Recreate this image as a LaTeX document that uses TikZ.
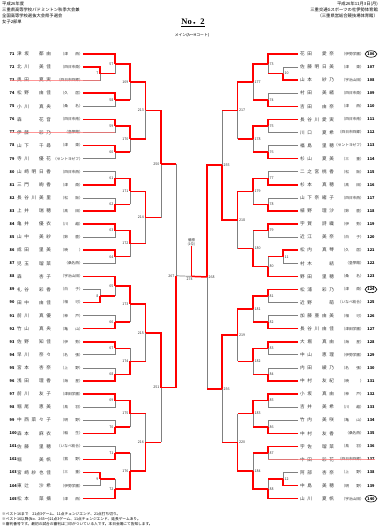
\documentclass[tikz,border=0pt]{standalone}
\usepackage{fontspec}
\usetikzlibrary{shapes.geometric}
\setmainfont{Noto Sans CJK JP}
\newfontfamily\jpname[LetterSpace=58]{Noto Sans CJK JP}
\newfontfamily\jp{Noto Sans CJK JP}
\newfontfamily\serifb{Liberation Serif}
\newcommand\setY[2]{\expandafter\xdef\csname Y@#1\endcsname{#2}}
\newcommand\getY[1]{\csname Y@#1\endcsname}
\newcommand\Lp[4]{%
  \pgfmathsetmacro\yy{54+13.08*#1}%
  \setY{P#2}{\yy}%
  \expandafter\gdef\csname isP@P#2\endcsname{}%
  \coordinate (P#2) at (83,\yy);
  \node[numl] (n#2) at (9.5,\yy) {#2};
  \node[nmb] (a#2) at (17,\yy) {#3};
  \node[scb,anchor=east] (s#2) at (83,\yy) {（#4）};
}
\newcommand\Rp[5]{%
  \pgfmathsetmacro\yy{54+13.08*#1}%
  \setY{P#2}{\yy}%
  \expandafter\gdef\csname isP@P#2\endcsname{}%
  \coordinate (P#2) at (298,\yy);
  \node[nmb] (a#2) at (300,\yy) {#3};
  \node[scb,anchor=east] (s#2) at (364,\yy) {（#4）};
  \ifnum#5=1 \node[numr,circ] (n#2) at (371,\yy) {#2};\else\node[numr] (n#2) at (371,\yy) {#2};\fi
}
\newcommand\mt[7]{%
  \pgfmathsetmacro\ya{\getY{#3}}%
  \pgfmathsetmacro\yb{\getY{#4}}%
  \pgfmathsetmacro\ym{(\ya+\yb)/2}%
  \setY{#1}{\ym}%
  \coordinate (#1) at (#2,\ym);
  \ifnum#5=1
    \ifcsname isP@#4\endcsname \draw[lose] (#4) -- (#2,\yb) -- (#1);%
    \else \draw[lose] (#2,\yb) -- (#1); \draw[win] (#4) -- (#2,\yb);\fi
    \draw[win] (#3) -- (#2,\ya) -- (#1);
  \else
    \ifcsname isP@#3\endcsname \draw[lose] (#3) -- (#2,\ya) -- (#1);%
    \else \draw[lose] (#2,\ya) -- (#1); \draw[win] (#3) -- (#2,\ya);\fi
    \draw[win] (#4) -- (#2,\yb) -- (#1);
  \fi
  \if#7l\node[lbl,anchor=east] (l#1) at (#2-1.2,\ym) {#6};\else\node[lbl,anchor=west] (l#1) at (#2+1.2,\ym) {#6};\fi
}
\begin{document}
\begin{tikzpicture}[x=1pt,y=-1pt,
  win/.style={draw=red, line width=1.5pt},
  lose/.style={draw=black!50, line width=0.7pt},
  strike/.style={draw=red!55, line width=0.8pt, opacity=0.75},
  lbl/.style={font=\jp\fontsize{3.6}{4}\selectfont, inner sep=0.3pt, text=black!80},
  numl/.style={font=\jp\bfseries\fontsize{3.9}{4}\selectfont, anchor=west, inner sep=0pt},
  numr/.style={font=\jp\bfseries\fontsize{3.9}{4}\selectfont, inner sep=0pt},
  circ/.style={draw=black, ellipse, line width=0.6pt, inner sep=0.6pt, minimum width=11pt, minimum height=6.5pt},
  nmb/.style={font=\jpname\fontsize{4.6}{5}\selectfont, anchor=west, inner sep=0pt, text=black!80},
  scb/.style={font=\jp\fontsize{3.7}{4}\selectfont, inner sep=0pt, text=black!80},
  hdr/.style={font=\jp\fontsize{4.3}{5}\selectfont, inner sep=0pt},
  ftr/.style={font=\jp\fontsize{3.7}{4}\selectfont, inner sep=0pt, anchor=west}]
\useasboundingbox (0,0) rectangle (380,528);
\fill[white] (0,0) rectangle (380,528);
% header
\node[hdr,anchor=west] (h1) at (2,4) {平成26年度};
\node[hdr,anchor=west] (h2) at (2,10) {三重県高等学校バドミントン秋季大会兼};
\node[hdr,anchor=west] (h3) at (2,16) {全国高等学校選抜大会県予選会};
\node[hdr,anchor=west] (h4) at (2,22) {女子2部単};
\node[hdr,anchor=east] (h5) at (378,4) {平成26年11月3日(月)};
\node[hdr,anchor=east] (h6) at (378,10) {三重交通Gスポーツの杜伊勢体育館};
\node[hdr,anchor=east] (h7) at (378,16) {（三重県営総合競技場体育館）};
\node[font=\serifb\bfseries\fontsize{8.5}{9}\selectfont, inner sep=0pt] (no) at (193,23) {\underline{No{\jp ．}2}};
\node[font=\jp\fontsize{3.8}{4}\selectfont, inner sep=0pt] (court) at (192,35) {メイン(A〜Hコート)};
% players left
\Lp{0}{71}{津坂　都由}{津　　西}
\Lp{1}{72}{北川　美佳}{四日市商}
\Lp{2}{73}{奥田　夏実}{四日市四郷}
\Lp{3}{74}{松野　由佳}{久　　居}
\Lp{4}{75}{小川　真央}{桑　　名}
\Lp{5}{76}{森　　花音}{四日市南}
\Lp{6}{77}{伊藤　彩乃}{皇學館}
\Lp{7}{78}{山下　千尋}{津　　東}
\Lp{8}{79}{寺川　優花}{セントヨゼフ}
\Lp{9}{80}{山崎明日香}{四日市西}
\Lp{10}{81}{三門　絢香}{津　　商}
\Lp{11}{82}{長谷川美里}{松　　阪}
\Lp{12}{83}{上井　瑞穂}{高　　田}
\Lp{13}{84}{亀井　優衣}{川　　越}
\Lp{14}{85}{山中　美紗}{鈴　　鹿}
\Lp{15}{86}{成田　里美}{暁　　　}
\Lp{16}{87}{児玉　瑠菜}{桑名西}
\Lp{17}{88}{森　　杏子}{宇治山田}
\Lp{18}{89}{礼谷　彩香}{白　　子}
\Lp{19}{90}{田中　由佳}{相　　可}
\Lp{20}{91}{前川　真優}{神　　戸}
\Lp{21}{92}{竹山　真央}{亀　　山}
\Lp{22}{93}{佐野　知佳}{伊　　勢}
\Lp{23}{94}{早川　奈々}{名　　張}
\Lp{24}{95}{宮本　杏奈}{上　　野}
\Lp{25}{96}{浅田　理香}{海　　星}
\Lp{26}{97}{前川　友子}{津田学園}
\Lp{27}{98}{堀尾　恵美}{鳥　　羽}
\Lp{28}{99}{中西菜々子}{明　　野}
\Lp{29}{100}{森本　麻衣}{稲　　生}
\Lp{30}{101}{佐藤　里穂}{いなべ総合}
\Lp{31}{102}{堀　　美帆}{菰　　野}
\Lp{32}{103}{宮崎紗也佳}{三　　重}
\Lp{33}{104}{東辻　沙希}{伊勢学園}
\Lp{34}{105}{松本　菜摘}{津　　西}
% players right
\Rp{0}{106}{花田　愛奈}{伊勢学園}{1}
\Rp{1}{107}{佐藤明日美}{津　　東}{0}
\Rp{2}{108}{山本　紗乃}{宇治山田}{0}
\Rp{3}{109}{村田　美緒}{四日市商}{0}
\Rp{4}{110}{吉田　由奈}{津　　西}{0}
\Rp{5}{111}{長谷川愛実}{四日市南}{0}
\Rp{6}{112}{川口　夏希}{四日市四郷}{0}
\Rp{7}{113}{福島　里穂}{セントヨゼフ}{0}
\Rp{8}{114}{杉山　夏美}{三　　重}{0}
\Rp{9}{115}{二之宮桃香}{松　　阪}{0}
\Rp{10}{116}{杉本　真穂}{高　　田}{0}
\Rp{11}{117}{山下奈緒子}{四日市西}{0}
\Rp{12}{118}{植野　理沙}{鈴　　鹿}{0}
\Rp{13}{119}{宇賀　詩織}{伊　　勢}{0}
\Rp{14}{120}{近江　美奈}{白　　子}{0}
\Rp{15}{121}{松内　真琴}{久　　居}{0}
\Rp{16}{122}{村木　　結}{皇學館}{0}
\Rp{17}{123}{野田　里穂}{桑　　名}{0}
\Rp{18}{124}{松浦　彩乃}{津　　商}{1}
\Rp{19}{125}{近野　　萌}{いなべ総合}{0}
\Rp{20}{126}{加藤亜由美}{相　　可}{0}
\Rp{21}{127}{長谷川由佳}{津田学園}{0}
\Rp{22}{128}{大堀　真由}{海　　星}{0}
\Rp{23}{129}{中山　恵理}{伊勢学園}{0}
\Rp{24}{130}{内田　綾乃}{名　　張}{0}
\Rp{25}{131}{中村　友紀}{暁　　　}{0}
\Rp{26}{132}{小坂　真由}{神　　戸}{0}
\Rp{27}{133}{吉井　美希}{川　　越}{0}
\Rp{28}{134}{竹内　美咲}{亀　　山}{0}
\Rp{29}{135}{中村　友香}{桑名西}{0}
\Rp{30}{136}{宇佐　瑠菜}{鳥　　羽}{0}
\Rp{31}{137}{中田　彩花}{四日市四郷}{0}
\Rp{32}{138}{阿部　杏奈}{上　　野}{0}
\Rp{33}{139}{中島　美穂}{明　　野}{0}
\Rp{34}{140}{山川　夏帆}{宇治山田}{1}
% left bracket
\mt{LP1}{100}{P72}{P73}{1}{7}{l}
\mt{L1}{115}{P71}{LP1}{1}{57}{l}
\mt{L2}{115}{P74}{P75}{1}{58}{l}
\mt{L3}{115}{P76}{P77}{1}{59}{l}
\mt{L4}{115}{P78}{P79}{1}{60}{l}
\mt{L5}{115}{P80}{P81}{2}{61}{l}
\mt{L6}{115}{P82}{P83}{2}{62}{l}
\mt{L7}{115}{P84}{P85}{1}{63}{l}
\mt{L8}{115}{P86}{P87}{1}{64}{l}
\mt{LP2}{100}{P89}{P90}{2}{8}{l}
\mt{L9}{115}{P88}{LP2}{1}{65}{l}
\mt{L10}{115}{P91}{P92}{2}{66}{l}
\mt{L11}{115}{P93}{P94}{1}{67}{l}
\mt{L12}{115}{P95}{P96}{2}{68}{l}
\mt{L13}{115}{P97}{P98}{1}{69}{l}
\mt{L14}{115}{P99}{P100}{2}{70}{l}
\mt{L15}{115}{P101}{P102}{2}{71}{l}
\mt{LP3}{100}{P103}{P104}{1}{9}{l}
\mt{L16}{115}{LP3}{P105}{2}{72}{l}
\mt{LA}{130}{L1}{L2}{1}{169}{l}
\mt{LB}{130}{L3}{L4}{1}{170}{l}
\mt{LC}{130}{L5}{L6}{1}{171}{l}
\mt{LD}{130}{L7}{L8}{1}{172}{l}
\mt{LE}{130}{L9}{L10}{1}{173}{l}
\mt{LF}{130}{L11}{L12}{2}{174}{l}
\mt{LG}{130}{L13}{L14}{1}{175}{l}
\mt{LH}{130}{L15}{L16}{2}{176}{l}
\mt{LQ1}{145.5}{LA}{LB}{1}{213}{l}
\mt{LQ2}{145.5}{LC}{LD}{1}{214}{l}
\mt{LQ3}{145.5}{LE}{LF}{1}{215}{l}
\mt{LQ4}{145.5}{LG}{LH}{2}{216}{l}
\mt{LS1}{161}{LQ1}{LQ2}{1}{250}{l}
\mt{LS2}{161}{LQ3}{LQ4}{1}{251}{l}
\mt{LF0}{176}{LS1}{LS2}{2}{267}{l}
% right bracket
\mt{RP1}{283}{P107}{P108}{2}{10}{r}
\mt{R1}{268}{P106}{RP1}{1}{73}{r}
\mt{R2}{268}{P109}{P110}{2}{74}{r}
\mt{R3}{268}{P111}{P112}{1}{75}{r}
\mt{R4}{268}{P113}{P114}{2}{76}{r}
\mt{R5}{268}{P115}{P116}{2}{77}{r}
\mt{R6}{268}{P117}{P118}{2}{78}{r}
\mt{R7}{268}{P119}{P120}{1}{79}{r}
\mt{RP2}{283}{P121}{P122}{1}{11}{r}
\mt{R8}{268}{RP2}{P123}{2}{80}{r}
\mt{R9}{268}{P124}{P125}{1}{81}{r}
\mt{R10}{268}{P126}{P127}{2}{82}{r}
\mt{R11}{268}{P128}{P129}{1}{83}{r}
\mt{R12}{268}{P130}{P131}{2}{84}{r}
\mt{R13}{268}{P132}{P133}{1}{85}{r}
\mt{R14}{268}{P134}{P135}{2}{86}{r}
\mt{R15}{268}{P136}{P137}{1}{87}{r}
\mt{RP3}{283}{P138}{P139}{2}{12}{r}
\mt{R16}{268}{RP3}{P140}{2}{88}{r}
\mt{RA}{253}{R1}{R2}{1}{177}{r}
\mt{RB}{253}{R3}{R4}{1}{178}{r}
\mt{RC}{253}{R5}{R6}{1}{179}{r}
\mt{RD}{253}{R7}{R8}{2}{180}{r}
\mt{RE}{253}{R9}{R10}{1}{181}{r}
\mt{RF}{253}{R11}{R12}{1}{182}{r}
\mt{RG}{253}{R13}{R14}{1}{183}{r}
\mt{RH}{253}{R15}{R16}{2}{184}{r}
\mt{RQ1}{237.5}{RA}{RB}{1}{217}{r}
\mt{RQ2}{237.5}{RC}{RD}{1}{218}{r}
\mt{RQ3}{237.5}{RE}{RF}{1}{219}{r}
\mt{RQ4}{237.5}{RG}{RH}{2}{220}{r}
\mt{RS1}{222}{RQ1}{RQ2}{2}{255}{r}
\mt{RS2}{222}{RQ3}{RQ4}{1}{256}{r}
\mt{RF0}{207}{RS1}{RS2}{1}{268}{r}
% final
\pgfmathsetmacro\yf{(\getY{LF0}+\getY{RF0})/2}
\coordinate (F) at (191.5,\yf);
\node[lbl,align=center,font=\jp\fontsize{3.4}{4}\selectfont] (champ) at (191.5,242) {優勝\\(1位)};
\draw[lose] (LF0) -- (F);
\draw[win] (RF0) -- (F);
\draw[win] (F) -- (champ.south);
\node[lbl,anchor=north] (lF) at (189.5,\yf+1.5) {274};
% withdrawn rows
\draw[strike] (n73.west) -- (100,\getY{P73});
\draw[strike] (n77.west) -- (115,\getY{P77});
\draw[strike] (268,\getY{P137}) -- (n137.east);
% footer
\node[ftr] (f1) at (2,514) {※ベスト16まで　21点3ゲーム、11点チェンジエンド、21点打ち切り。};
\node[ftr] (f2) at (2,519) {※ベスト16以降(No．265〜)21点3ゲーム、11点チェンジエンド、延長ゲームあり。};
\node[ftr] (f3) at (2,524) {※審判番号です。最初の試合の審判は□印がついている人です。本日会場にて告知します。};
\end{tikzpicture}
\end{document}
